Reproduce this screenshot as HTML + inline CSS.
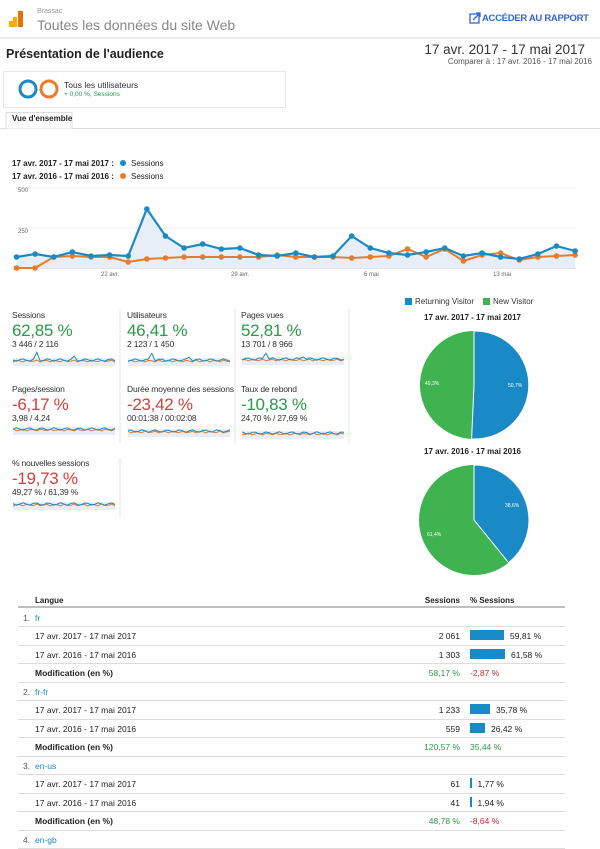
<!DOCTYPE html>
<html><head><meta charset="utf-8"><style>
body{margin:0;width:600px;height:849px;background:#fff;font-family:"Liberation Sans",sans-serif;position:relative;overflow:hidden;color:#222}
.a{position:absolute;white-space:nowrap}
.mt{font-size:8.5px;color:#333;letter-spacing:-0.2px}
.mv{font-size:17px;letter-spacing:-0.3px}
.ms{font-size:8.5px;color:#333;letter-spacing:-0.2px}
.g{color:#2a9a48}.r{color:#d6403a}
.row{position:absolute;left:18px;width:547px;border-bottom:1px solid #ddd;height:18.5px;font-size:8.5px}
.row span{position:absolute;top:5px}
</style></head><body>
<svg class="a" style="left:0;top:0" width="600" height="849">
<rect x="9" y="21" width="4" height="6" fill="#f9ab00"/><rect x="13" y="17" width="4" height="10" fill="#f9ab00"/><rect x="18" y="11" width="5" height="16" fill="#e37400"/>
<line x1="0" y1="38" x2="600" y2="38" stroke="#e3e3e3" stroke-width="1.5"/>
<rect x="3.5" y="71.5" width="282" height="36" fill="#fff" stroke="#e6e6e6"/>
<circle cx="28" cy="89" r="8" fill="none" stroke="#1a8ac6" stroke-width="3"/>
<circle cx="49" cy="89" r="8" fill="none" stroke="#ea7b27" stroke-width="3"/>
<line x1="0" y1="128.5" x2="600" y2="128.5" stroke="#ddd"/>
<path d="M6 128.5V112.5H72V128.5" fill="#fff" stroke="#ddd"/>
<rect x="470" y="14" width="9" height="9" fill="none" stroke="#3367d6" stroke-width="1.3"/><path d="M473 20L480 13M476 13H480V17" stroke="#3367d6" stroke-width="1.3" fill="none"/>
<circle cx="123" cy="163" r="3" fill="#1a8ac6"/><circle cx="123" cy="176" r="3" fill="#ea7b27"/>
<line x1="16" y1="188" x2="576" y2="188" stroke="#eee"/><line x1="16" y1="228" x2="576" y2="228" stroke="#eee"/><line x1="16" y1="268" x2="576" y2="268" stroke="#ccc"/>
<g id="ch"></g>
<rect x="405" y="298" width="7" height="7" fill="#1a8ac6"/><rect x="483" y="298" width="7" height="7" fill="#3fb34f"/>
<circle cx="474" cy="385" r="54" fill="#3fb34f"/>
<path d="M474 385V331A54 54 0 1 1 471.6 438.9Z" fill="#1a8ac6" stroke="#fff" stroke-width="1"/>
<circle cx="474" cy="520" r="55" fill="#3fb34f"/>
<path d="M474 520V465A55 55 0 0 1 508.6 562.7Z" fill="#1a8ac6" stroke="#fff" stroke-width="1"/>
<line x1="120" y1="310" x2="120" y2="443" stroke="#e5e5e5"/><line x1="235" y1="310" x2="235" y2="443" stroke="#e5e5e5"/><line x1="349" y1="310" x2="349" y2="443" stroke="#e5e5e5"/><line x1="120" y1="458" x2="120" y2="517" stroke="#e5e5e5"/>
<line x1="18" y1="607" x2="565" y2="607" stroke="#aaa" stroke-width="1.5"/>
</svg>
<div class="a" style="left:37px;top:8px;font-size:7px;color:#999">Brassac</div>
<div class="a" style="left:37px;top:17px;font-size:14px;color:#888">Toutes les données du site Web</div>
<div class="a" style="left:482px;top:13px;font-size:9.5px;color:#3367d6;font-weight:bold;letter-spacing:-0.3px">ACCÉDER AU RAPPORT</div>
<div class="a" style="left:6px;top:47px;font-size:12.5px;font-weight:bold">Présentation de l'audience</div>
<div class="a" style="right:15px;top:42px;font-size:13.5px;color:#333">17 avr. 2017 - 17 mai 2017</div>
<div class="a" style="right:8px;top:57px;font-size:8px;color:#555">Comparer à : 17 avr. 2016 - 17 mai 2016</div>
<div class="a" style="left:64px;top:80px;font-size:8.5px;color:#333">Tous les utilisateurs</div>
<div class="a" style="left:64px;top:91px;font-size:6.5px;color:#2a9a48">+ 0,00 %, Sessions</div>
<div class="a" style="left:12px;top:114px;font-size:8px;font-weight:bold">Vue d'ensemble</div>
<div class="a" style="left:12px;top:159px;font-size:8px;font-weight:bold">17 avr. 2017 - 17 mai 2017 :</div>
<div class="a" style="left:12px;top:172px;font-size:8px;font-weight:bold">17 avr. 2016 - 17 mai 2016 :</div>
<div class="a" style="left:131px;top:159px;font-size:8px">Sessions</div>
<div class="a" style="left:131px;top:172px;font-size:8px">Sessions</div>
<div class="a" style="left:18px;top:188px;font-size:6px;color:#666">500</div>
<div class="a" style="left:18px;top:229px;font-size:6px;color:#666">250</div>
<div class="a" style="left:101px;top:272px;font-size:6px;color:#666">22 avr.</div>
<div class="a" style="left:231px;top:272px;font-size:6px;color:#666">29 avr.</div>
<div class="a" style="left:364px;top:272px;font-size:6px;color:#666">6 mai</div>
<div class="a" style="left:493px;top:272px;font-size:6px;color:#666">13 mai</div>
<div class="a" style="left:415px;top:297px;font-size:8px;color:#333">Returning Visitor</div>
<div class="a" style="left:493px;top:297px;font-size:8px;color:#333">New Visitor</div>
<div class="a" style="left:424px;top:313px;font-size:8px;font-weight:bold">17 avr. 2017 - 17 mai 2017</div>
<div class="a" style="left:424px;top:447px;font-size:8px;font-weight:bold">17 avr. 2016 - 17 mai 2016</div>
<div class="a" style="left:425px;top:381px;font-size:5px;color:#fff">49,3%</div>
<div class="a" style="left:508px;top:383px;font-size:5px;color:#fff">50,7%</div>
<div class="a" style="left:505px;top:503px;font-size:5px;color:#fff">38,6%</div>
<div class="a" style="left:427px;top:532px;font-size:5px;color:#fff">61,4%</div>

<div class="a mt" style="left:12px;top:310px">Sessions</div><div class="a mv g" style="left:12px;top:321px">62,85 %</div><div class="a ms" style="left:12px;top:339px">3 446 / 2 116</div>
<div class="a mt" style="left:127px;top:310px">Utilisateurs</div><div class="a mv g" style="left:127px;top:321px">46,41 %</div><div class="a ms" style="left:127px;top:339px">2 123 / 1 450</div>
<div class="a mt" style="left:241px;top:310px">Pages vues</div><div class="a mv g" style="left:241px;top:321px">52,81 %</div><div class="a ms" style="left:241px;top:339px">13 701 / 8 966</div>
<div class="a mt" style="left:12px;top:384px">Pages/session</div><div class="a mv r" style="left:12px;top:395px">-6,17 %</div><div class="a ms" style="left:12px;top:413px">3,98 / 4,24</div>
<div class="a mt" style="left:127px;top:384px">Durée moyenne des sessions</div><div class="a mv r" style="left:127px;top:395px">-23,42 %</div><div class="a ms" style="left:127px;top:413px">00:01:38 / 00:02:08</div>
<div class="a mt" style="left:241px;top:384px">Taux de rebond</div><div class="a mv g" style="left:241px;top:395px">-10,83 %</div><div class="a ms" style="left:241px;top:413px">24,70 % / 27,69 %</div>
<div class="a mt" style="left:12px;top:458px">% nouvelles sessions</div><div class="a mv r" style="left:12px;top:469px">-19,73 %</div><div class="a ms" style="left:12px;top:487px">49,27 % / 61,39 %</div>
<svg class="a" style="left:0;top:0" width="600" height="849" id="sp"></svg>

<div class="a" style="left:35px;top:596px;font-size:8px;font-weight:bold">Langue</div>
<div class="a" style="right:140px;top:596px;font-size:8px;font-weight:bold">Sessions</div>
<div class="a" style="left:470px;top:596px;font-size:8px;font-weight:bold">% Sessions</div>
<div id="tb"></div>
<script>
var bx=[257,254,257,252,256,255,256,209,236,248,244,249,248,255,256,253,257,256,236,248,253,255,252,248,256,253,257,259,254,246,251];
var ox=[268,268,257,256,257,257,262,259,258,257,257,257,257,257,255,257,257,257,258,257,256,249,257,249,261,255,253,260,257,256,255];
function X(i){return 16.5+18.62*i}
var s='';var p=bx.map((y,i)=>X(i).toFixed(1)+','+y).join(' ');
s+='<polygon points="16.5,268 '+p+' 575,268" fill="#e8eef7"/>';
s+='<polyline points="'+ox.map((y,i)=>X(i).toFixed(1)+','+y).join(' ')+'" fill="none" stroke="#ea7b27" stroke-width="2"/>';
ox.forEach((y,i)=>s+='<circle cx="'+X(i)+'" cy="'+y+'" r="2.8" fill="#ea7b27"/>');
s+='<polyline points="'+p+'" fill="none" stroke="#1a8ac6" stroke-width="2.2"/>';
bx.forEach((y,i)=>s+='<circle cx="'+X(i)+'" cy="'+y+'" r="2.8" fill="#1a8ac6"/>');
document.getElementById('ch').innerHTML=s;
var sp='';
function spark(x,y,seed,spike){var b='',o='';for(var i=0;i<31;i++){var xx=x+i*3.4;var v=Math.sin(i*1.7+seed)*1.2+(i==7&&spike?-7:0)+(i==18&&spike?-3:0);var w=Math.cos(i*2.3+seed)*1.0;b+=xx.toFixed(1)+','+(y+v).toFixed(1)+' ';o+=xx.toFixed(1)+','+(y+1+w).toFixed(1)+' ';}
sp+='<rect x="'+x+'" y="'+(y-2)+'" width="102" height="8" fill="#e8eef7"/><polyline points="'+o+'" fill="none" stroke="#ea7b27" stroke-width="1"/><polyline points="'+b+'" fill="none" stroke="#1a8ac6" stroke-width="1"/>';}
spark(13,360,0,1);spark(128,360,1,1);spark(242,359,2,1);spark(13,429,3,0);spark(128,431,4,0);spark(242,433,5,0);spark(13,504,6,0);
document.getElementById('sp').innerHTML=sp;
var rows=[['1.','fr'],['d','17 avr. 2017 - 17 mai 2017','2 061',34,'59,81 %'],['d','17 avr. 2016 - 17 mai 2016','1 303',35,'61,58 %'],['m','58,17 %','-2,87 %','r'],
['2.','fr-fr'],['d','17 avr. 2017 - 17 mai 2017','1 233',20,'35,78 %'],['d','17 avr. 2016 - 17 mai 2016','559',15,'26,42 %'],['m','120,57 %','35,44 %','g'],
['3.','en-us'],['d','17 avr. 2017 - 17 mai 2017','61',1.5,'1,77 %'],['d','17 avr. 2016 - 17 mai 2016','41',1.5,'1,94 %'],['m','48,78 %','-8,64 %','r'],['4.','en-gb']];
var h='',y=607.5;
rows.forEach(r=>{var c='';
if(r[0]=='d'){c='<span style="left:17px">'+r[1]+'</span><span style="right:105px">'+r[2]+'</span><span style="left:452px;top:4px;height:10px;width:'+r[3]+'px;background:#1a8ac6"></span><span style="left:'+(458+r[3])+'px">'+r[4]+'</span>';}
else if(r[0]=='m'){c='<span style="left:17px;font-weight:bold">Modification (en %)</span><span style="right:105px;color:#2a9a48">'+r[1]+'</span><span style="left:452px;color:'+(r[3]=='r'?'#c0302b':'#2a9a48')+'">'+r[2]+'</span>';}
else{c='<span style="left:5px;color:#555">'+r[0]+'</span><span style="left:17px;color:#1a8ac6">'+r[1]+'</span>';}
h+='<div class="row" style="top:'+y.toFixed(1)+'px">'+c+'</div>';y+=18.5;});
document.getElementById('tb').innerHTML=h;
</script>
</body></html>
